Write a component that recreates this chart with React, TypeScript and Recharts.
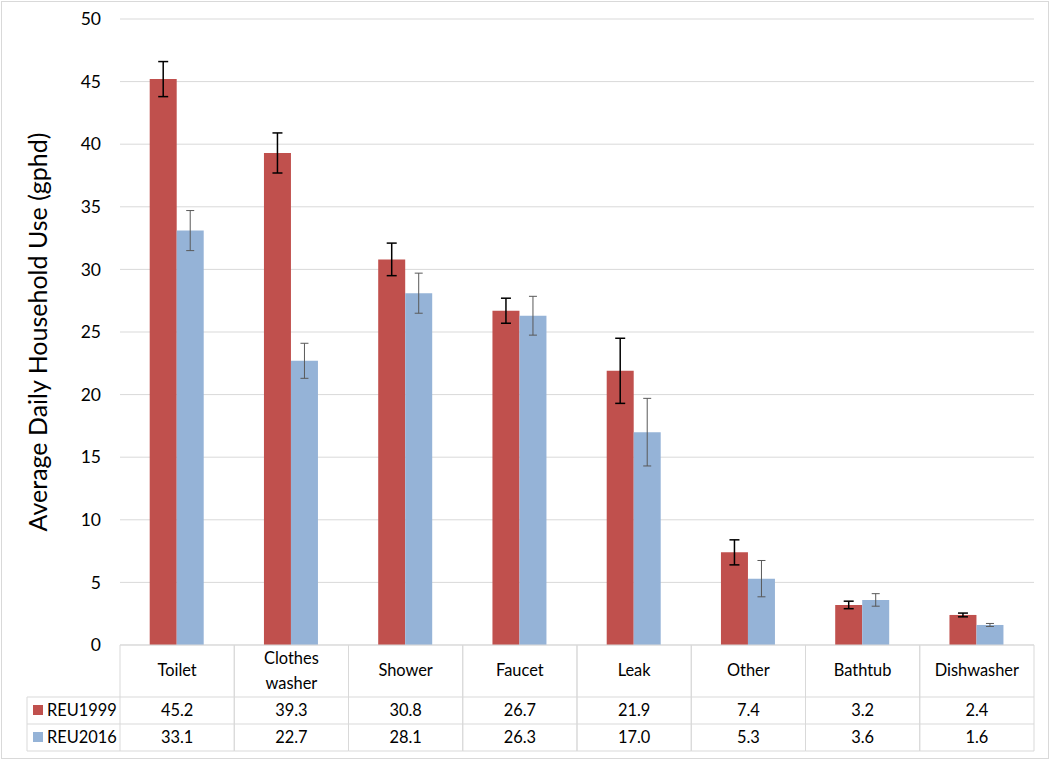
import React from "react";
import { Bar, BarChart, CartesianGrid, ErrorBar, XAxis, YAxis } from "recharts";

const categories = ["Toilet", "Clothes washer", "Shower", "Faucet", "Leak", "Other", "Bathtub", "Dishwasher"];
const reu1999 = [45.2, 39.3, 30.8, 26.7, 21.9, 7.4, 3.2, 2.4];
const reu2016 = [33.1, 22.7, 28.1, 26.3, 17.0, 5.3, 3.6, 1.6];
const err1999 = [1.4, 1.6, 1.3, 1.0, 2.6, 1.0, 0.3, 0.15];
const err2016 = [1.6, 1.4, 1.6, 1.55, 2.7, 1.45, 0.5, 0.12];
const yTicks = [0, 5, 10, 15, 20, 25, 30, 35, 40, 45, 50];

const RED = "#C0504D";
const BLUE = "#95B3D7";
const LINE = "#D9D9D9";
const FONT = "Lato, 'Open Sans', sans-serif";

const data = categories.map((name, i) => ({
  name,
  reu1999: reu1999[i],
  reu2016: reu2016[i],
  err1999: err1999[i],
  err2016: err2016[i],
}));

const HEAD_H = 52;
const ROW_H = 27;

function TableTick(props: any) {
  const { x, y, payload, index, width } = props;
  const half = payload?.offset ? payload.offset : (width || 914) / categories.length / 2;
  const left = x - half;
  const right = x + half;
  const words = String(payload.value).split(" ");
  const r1 = y + HEAD_H;
  const r2 = r1 + ROW_H;
  const r3 = r2 + ROW_H;
  const txt = { fontFamily: FONT, fontSize: 16.4, fill: "#000", textAnchor: "middle" as const };
  return (
    <g>
      <line x1={left} y1={y} x2={left} y2={r3} stroke={LINE} />
      <line x1={right} y1={y} x2={right} y2={r3} stroke={LINE} />
      <line x1={left} y1={r1} x2={right} y2={r1} stroke={LINE} />
      <line x1={left} y1={r2} x2={right} y2={r2} stroke={LINE} />
      <line x1={left} y1={r3} x2={right} y2={r3} stroke={LINE} />
      {words.length > 1 ? (
        <>
          <text x={x} y={y + 19} {...txt}>{words[0]}</text>
          <text x={x} y={y + 44} {...txt}>{words.slice(1).join(" ")}</text>
        </>
      ) : (
        <text x={x} y={y + 31} {...txt}>{words[0]}</text>
      )}
      <text x={x} y={r1 + 19} {...txt}>{reu1999[index].toFixed(1)}</text>
      <text x={x} y={r2 + 19} {...txt}>{reu2016[index].toFixed(1)}</text>
      {index === 0 && (
        <g>
          <line x1={27} y1={r1} x2={left} y2={r1} stroke={LINE} />
          <line x1={27} y1={r2} x2={left} y2={r2} stroke={LINE} />
          <line x1={27} y1={r3} x2={left} y2={r3} stroke={LINE} />
          <line x1={27} y1={r1} x2={27} y2={r3} stroke={LINE} />
          <rect x={33} y={r1 + 8} width={10} height={10} fill={RED} />
          <text x={47} y={r1 + 19} {...txt} textAnchor="start">REU1999</text>
          <rect x={33} y={r2 + 8} width={10} height={10} fill={BLUE} />
          <text x={47} y={r2 + 19} {...txt} textAnchor="start">REU2016</text>
        </g>
      )}
    </g>
  );
}

export default function App() {
  return (
    <div style={{ position: "absolute", left: 0, top: 0, width: 1052, height: 762, background: "#fff" }}>
      <div
        style={{
          position: "absolute",
          left: 1,
          top: 1,
          width: 1046,
          height: 756,
          border: `1px solid ${LINE}`,
        }}
      />
      <BarChart
        width={1052}
        height={762}
        data={data}
        margin={{ top: 19, right: 18, left: 0, bottom: 11 }}
        barCategoryGap="26%"
        barGap={0}
      >
        <CartesianGrid vertical={false} stroke={LINE} />
        <XAxis
          dataKey="name"
          height={106}
          tickSize={0}
          tickMargin={0}
          axisLine={{ stroke: LINE }}
          tickLine={false}
          interval={0}
          tick={<TableTick />}
        />
        <YAxis
          domain={[0, 50]}
          ticks={yTicks}
          width={120}
          axisLine={false}
          tickLine={false}
          tickMargin={13}
          tick={{ fontFamily: FONT, fontSize: 17.5, fill: "#000" }}
          label={{
            value: "Average Daily Household Use (gphd)",
            angle: -90,
            position: "center",
            dx: -22,
            style: { fontFamily: FONT, fontSize: 25, fill: "#000", textAnchor: "middle" },
          }}
        />
        <Bar dataKey="reu1999" fill={RED} isAnimationActive={false}>
          <ErrorBar dataKey="err1999" width={5} stroke="#000" strokeWidth={1.5} />
        </Bar>
        <Bar dataKey="reu2016" fill={BLUE} isAnimationActive={false}>
          <ErrorBar dataKey="err2016" width={4} stroke="#595959" strokeWidth={1} />
        </Bar>
      </BarChart>
    </div>
  );
}
